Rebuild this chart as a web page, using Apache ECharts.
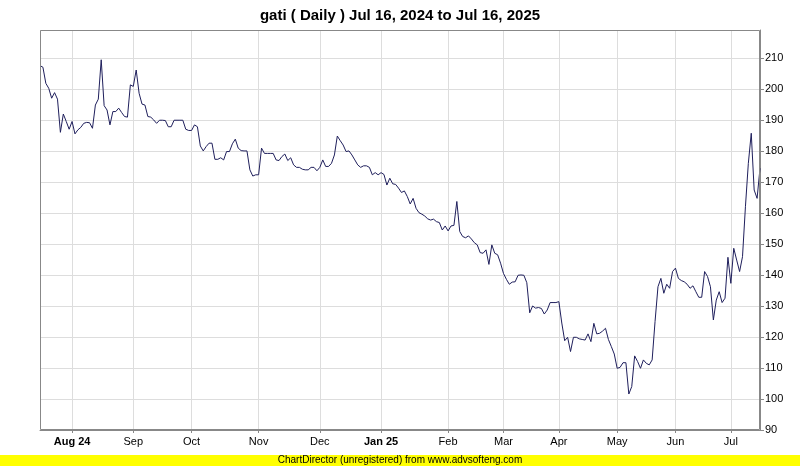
<!DOCTYPE html>
<html><head><meta charset="utf-8">
<script src="https://cdn.jsdelivr.net/npm/echarts@6/dist/echarts.min.js"></script>
<style>html,body{margin:0;padding:0;background:#fff}#c{width:800px;height:466px}</style>
</head><body><div id="c"></div>
<script>
// Month labels shown at the first trading day of each month (first partial month unlabelled)
const monthLabels = ['', 'Aug 24', 'Sep', 'Oct', 'Nov', 'Dec', 'Jan 25', 'Feb', 'Mar', 'Apr', 'May', 'Jun', 'Jul'];
const boldLabels = ['Aug 24', 'Jan 25'];
const yTicks = [90, 100, 110, 120, 130, 140, 150, 160, 170, 180, 190, 200, 210];

// Daily closing prices, one array per month (trading days)
const pJul24 = [207.5, 207.0, 201.8, 200.2, 197.0, 198.8, 196.7, 186.0, 191.9, 189.5, 187.0];
const pAug24 = [189.5, 185.5, 186.8, 187.6, 188.9, 189.2, 189.1, 187.3, 194.8, 196.7, 209.4, 194.6, 193.2, 188.4, 192.7, 192.7, 193.8, 192.4, 191.1, 190.9, 201.3];
const pSep24 = [200.8, 206.1, 198.6, 195.1, 194.8, 191.1, 190.9, 190.0, 188.9, 189.9, 189.9, 189.8, 187.8, 187.8, 189.9, 189.9, 189.9, 189.9, 187.0, 186.6];
const pOct24 = [186.6, 188.4, 187.8, 181.6, 180.0, 181.4, 182.5, 182.5, 177.3, 177.3, 177.8, 177.1, 179.8, 179.8, 182.3, 183.8, 180.9, 180.1, 180.0, 180.0, 173.9, 171.9, 172.3];
const pNov24 = [172.3, 180.9, 179.2, 179.2, 179.2, 179.2, 177.1, 176.9, 178.2, 179.0, 176.9, 177.8, 175.5, 174.7, 174.7, 174.1, 173.9, 173.9, 174.7, 174.7, 173.6];
const pDec24 = [174.7, 177.1, 175.0, 175.0, 176.0, 178.7, 184.8, 183.3, 181.9, 179.8, 180.0, 178.7, 177.1, 175.5, 174.7, 175.2, 175.2, 174.7, 172.3, 173.0, 172.3];
const pJan25 = [173.0, 172.4, 169.0, 171.2, 169.4, 169.2, 168.0, 166.6, 167.1, 165.3, 162.9, 164.7, 161.5, 160.1, 159.6, 159.0, 158.1, 157.7, 158.0, 157.2, 156.9, 154.5, 155.8];
const pFeb25 = [154.2, 155.8, 156.0, 163.7, 154.0, 152.4, 152.0, 152.6, 151.6, 150.4, 149.7, 147.2, 147.0, 148.1, 143.4, 149.7, 147.0, 146.5, 143.8];
const pMar25 = [140.5, 138.6, 137.0, 137.7, 137.8, 139.9, 140.0, 139.9, 137.5, 127.8, 130.0, 129.3, 129.5, 129.2, 127.4, 128.7, 131.1, 131.1, 131.1];
const pApr25 = [131.4, 124.5, 118.8, 119.9, 115.3, 119.9, 119.9, 119.4, 119.2, 119.0, 121.0, 118.5, 124.4, 121.0, 121.2, 121.9, 122.8, 119.2, 116.9, 114.5];
const pMay25 = [109.9, 110.2, 111.7, 111.7, 101.6, 104.0, 113.9, 112.1, 109.9, 112.6, 111.5, 111.0, 112.6, 125.0, 136.2, 138.9, 134.1, 137.0, 135.7, 141.1];
const pJun25 = [142.2, 138.9, 138.2, 137.8, 137.0, 135.7, 136.5, 134.6, 132.8, 132.8, 141.1, 139.5, 136.2, 125.5, 131.9, 134.6, 131.1, 132.5, 145.7];
const pJul25 = [137.3, 148.6, 144.8, 141.1, 145.9, 162.0, 176.0, 185.7, 167.4, 164.7, 174.4];

const months = [pJul24, pAug24, pSep24, pOct24, pNov24, pDec24, pJan25, pFeb25, pMar25, pApr25, pMay25, pJun25, pJul25];

const categories = [];
const values = [];
const labelAt = {};
months.forEach((arr, m) => {
  arr.forEach((v, d) => {
    const idx = values.length;
    if (d === 0 && monthLabels[m]) labelAt[idx] = monthLabels[m];
    categories.push(String(idx));
    values.push(v);
  });
});
const isMonthStart = (i) => labelAt[i] !== undefined;

const FONT = '"Liberation Sans Narrow", "Liberation Sans", Arial, sans-serif';
const chart = echarts.init(document.getElementById('c'), null, {renderer: 'canvas'});
chart.setOption({
  animation: false,
  backgroundColor: '#ffffff',
  title: {
    text: 'gati ( Daily ) Jul 16, 2024 to Jul 16, 2025',
    left: 'center', top: 3,
    textStyle: {fontFamily: FONT, fontWeight: 'bold', fontSize: 15, color: '#000'}
  },
  grid: {left: 40, right: 40, top: 30, bottom: 36, show: false},
  xAxis: {
    type: 'category',
    data: categories,
    boundaryGap: false,
    axisLine: {lineStyle: {color: '#888888', width: 1}},
    axisTick: {show: true, interval: isMonthStart, length: 3, lineStyle: {color: '#888888'}},
    splitLine: {show: true, interval: isMonthStart, lineStyle: {color: '#dddddd', width: 1}},
    axisLabel: {
      interval: isMonthStart,
      margin: 6,
      fontFamily: FONT, fontSize: 11, color: '#000',
      formatter: (v, i) => {
        const t = labelAt[i] || '';
        return boldLabels.includes(t) ? '{b|' + t + '}' : t;
      },
      rich: {b: {fontFamily: FONT, fontSize: 11, fontWeight: 'bold', color: '#000'}}
    }
  },
  yAxis: {
    type: 'value',
    position: 'right',
    min: yTicks[0], max: 219, interval: 10,
    axisLine: {show: true, lineStyle: {color: '#888888'}},
    axisTick: {show: true, length: 4, lineStyle: {color: '#888888'}},
    splitLine: {show: true, lineStyle: {color: '#dddddd', width: 1}},
    axisLabel: {
      margin: 5, fontFamily: FONT, fontSize: 11, color: '#000',
      showMaxLabel: false,
      formatter: (v) => yTicks.includes(v) ? String(v) : ''
    }
  },
  series: [{
    type: 'line',
    data: values,
    showSymbol: false,
    symbol: 'none',
    lineStyle: {color: '#1f1f5c', width: 1},
    z: 5
  }],
  graphic: [
    {type: 'rect', shape: {x: 40.5, y: 30.5, width: 719, height: 399}, style: {fill: 'none', stroke: '#888888', lineWidth: 1}, silent: true, z: 10},
    {type: 'rect', shape: {x: 0, y: 455, width: 800, height: 11}, style: {fill: '#ffff00'}, silent: true, z: 10},
    {type: 'text', left: 'center', top: 455, style: {text: 'ChartDirector (unregistered) from www.advsofteng.com', fontFamily: FONT, fontSize: 10, fill: '#000'}, silent: true, z: 11}
  ]
});
</script></body></html>
